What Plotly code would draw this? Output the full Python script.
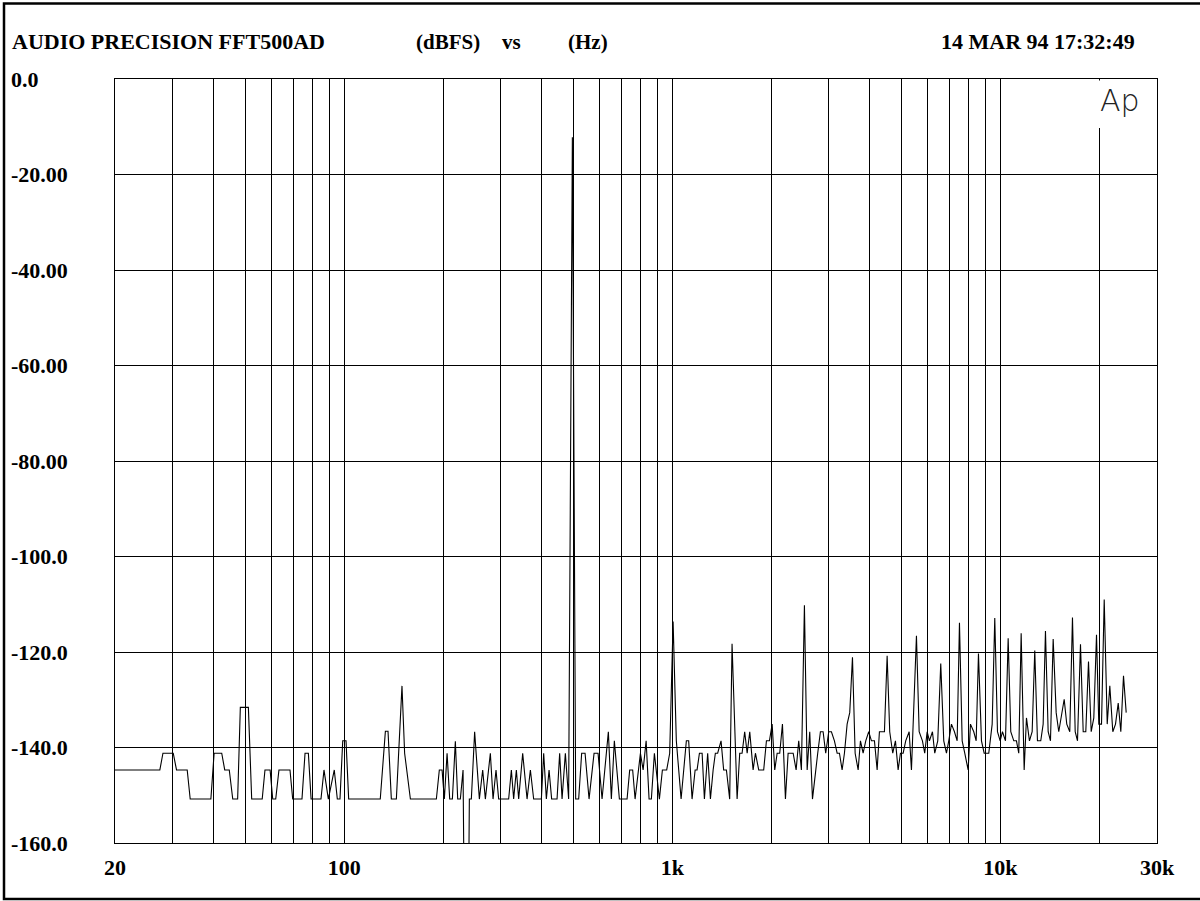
import plotly.graph_objects as go

# ---------------- data ----------------
freq_hz = [
    20.0, 27.4, 28.0, 30.1, 30.8, 33.2, 33.9, 39.2, 40.1, 42.3, 43.2, 44.6, 45.7, 47.3,
    48.2, 51.0, 52.2, 56.2, 57.3, 59.4, 60.5, 61.8, 63.2, 68.3, 69.6, 74.3, 75.9, 77.7,
    79.2, 84.9, 86.7, 89.4, 93.2, 95.2, 97.0, 98.9, 101.2, 103.1, 128.7, 133.4, 135.9,
    139.1, 144.1, 149.9, 152.7, 159.0, 190.8,
    194.8, 198.6, 201.8, 205.7, 209.5, 213.5, 218.0, 221.6, 225.8, 230.1, 231.8, 239.3,
    240.5, 243.9, 249.6, 258.0, 264.1, 269.1, 278.7, 284.0, 290.0, 295.4, 316.9, 323.0,
    328.2, 334.5, 340.0, 349.7, 360.6, 369.1, 377.7, 398.7, 405.2, 412.9, 420.8, 428.5,
    445.1, 453.3, 461.0, 471.8, 482.8, 495.6, 507.2, 518.0, 529.0, 541.8, 557.2, 577.1,
    593.5, 610.4,
    638.0, 651.6, 665.4, 689.3, 727.6, 741.0, 756.7, 769.6, 799.0, 814.3, 831.7, 849.0,
    862.8, 881.3, 912.8, 932.2, 960.8, 981.2, 1005, 1028, 1063, 1103, 1121, 1148, 1173,
    1189, 1209, 1232, 1252, 1281, 1306, 1331, 1352, 1374, 1407, 1433, 1461, 1495, 1520,
    1575, 1604, 1631, 1661, 1690, 1721, 1762, 1791, 1833,
    1855, 1898, 1935, 1976, 2014, 2051, 2086, 2124, 2165, 2211, 2253, 2334, 2383, 2427,
    2473, 2526, 2575, 2622, 2673, 2730, 2773, 2826, 2880, 2933, 2996, 3053, 3118, 3178,
    3230, 3291, 3345, 3409, 3472, 3539, 3606, 3683, 3743, 3814, 3885, 3967, 4043, 4129,
    4208, 4276, 4429, 4514, 4597, 4695, 4785, 4876, 4956, 5051, 5143, 5268, 5354, 5545,
    5651, 5783, 5877, 5977, 6074, 6204, 6305, 6439, 6576, 6716, 6845, 6956, 7089, 7240,
    7379,
    7499, 7643, 7783, 7971, 8101, 8291, 8432, 8569, 8752, 8919, 9212, 9434, 9608, 9792,
    9979, 10141, 10357, 10555, 10750, 10979, 11188, 11370, 11563, 11809, 12001, 12256,
    12491, 12721, 12964, 13268, 13493, 13713, 13976, 14204, 14476, 14784, 15055, 15346,
    15639, 15926, 16265, 16576, 16896, 17171, 17535, 17871, 18200, 18549, 18904, 19252,
    19622, 19941, 20323, 20712, 21152, 21542, 22000, 22421, 22852, 23271, 23714, 24167,
]

level_dbfs = [
    -144.7, -144.7, -141.2, -141.2, -144.7, -144.7, -150.8, -150.8, -141.2, -141.2, -144.7,
    -144.7, -150.8, -150.8, -131.6, -131.6, -150.8, -150.8, -144.7, -144.7, -150.8, -150.8,
    -144.7, -144.7, -150.8, -150.8, -141.2, -141.2, -150.8, -150.8, -144.7, -150.8, -144.7,
    -150.8, -150.8, -138.6, -138.6, -150.8, -150.8, -136.6, -136.6, -150.8, -150.8, -127.1,
    -141.2, -150.8, -150.8,
    -144.7, -144.7, -150.8, -141.2, -150.8, -150.8, -138.7, -150.8, -150.8, -144.7, -170.0,
    -170.0, -150.8, -150.8, -136.7, -150.8, -144.7, -150.8, -141.2, -150.8, -144.7, -150.8,
    -150.8, -144.7, -150.8, -144.7, -150.8, -141.2, -150.8, -144.7, -150.8, -150.8, -141.2,
    -150.8, -144.7, -150.8, -150.8, -141.2, -150.8, -141.2, -150.8, -12.2, -150.8, -150.8,
    -141.2, -141.2, -150.8, -141.2, -141.2, -150.8,
    -136.7, -150.8, -138.6, -150.8, -150.8, -144.7, -144.7, -150.8, -141.2, -144.7, -138.6,
    -150.8, -150.8, -141.2, -150.8, -144.7, -144.7, -141.2, -113.6, -138.6, -150.8, -138.6,
    -138.6, -150.8, -144.7, -144.7, -141.2, -141.2, -150.8, -141.2, -150.8, -144.7, -141.2,
    -141.2, -138.6, -144.7, -144.7, -150.8, -118.3, -150.8, -141.2, -141.2, -136.7, -141.2,
    -136.7, -144.7, -141.2, -144.7,
    -144.7, -144.7, -138.6, -138.6, -135.1, -144.7, -141.2, -141.2, -135.1, -150.8, -141.2,
    -141.2, -144.7, -138.6, -144.7, -110.2, -144.7, -136.7, -150.8, -144.7, -141.2, -136.7,
    -136.7, -141.2, -136.7, -136.7, -138.6, -141.2, -141.2, -144.7, -141.2, -135.1, -132.7,
    -121.1, -141.2, -144.7, -138.6, -141.2, -138.6, -136.7, -138.6, -138.6, -144.7, -136.7,
    -136.7, -120.8, -136.7, -141.2, -138.6, -144.7, -141.2, -141.2, -138.6, -136.7, -144.7,
    -116.6, -136.7, -138.6, -141.2, -136.7, -138.6, -136.7, -141.2, -138.6, -122.4, -138.6,
    -141.2, -138.6, -135.1, -136.7, -138.6,
    -113.9, -138.6, -141.2, -144.7, -135.1, -136.7, -138.6, -120.3, -138.6, -141.2, -141.2,
    -135.1, -112.9, -136.7, -138.6, -136.7, -138.6, -117.1, -136.7, -138.6, -138.6, -141.2,
    -116.1, -144.7, -133.8, -138.6, -136.7, -119.7, -138.6, -138.6, -135.1, -115.6, -136.7,
    -138.6, -117.3, -132.7, -136.7, -133.6, -129.9, -135.1, -136.7, -112.8, -136.7, -138.6,
    -118.4, -136.7, -136.7, -122.0, -136.7, -133.8, -116.4, -135.1, -135.1, -109.0, -135.1,
    -127.1, -136.7, -135.1, -130.7, -136.7, -125.0, -132.7,
]

x_grid_hz = [20, 30, 40, 50, 60, 70, 80, 90, 100, 200, 300, 400, 500, 600, 700, 800, 900,
             1000, 2000, 3000, 4000, 5000, 6000, 7000, 8000, 9000, 10000, 20000, 30000]
x_tick_text = ["20", "", "", "", "", "", "", "", "100", "", "", "", "", "", "", "", "",
               "1k", "", "", "", "", "", "", "", "", "10k", "", "30k"]

y_tick_vals = [0, -20, -40, -60, -80, -100, -120, -140, -160]
y_tick_text = ["0.0", "-20.00", "-40.00", "-60.00", "-80.00", "-100.0", "-120.0", "-140.0", "-160.0"]

title_left = "AUDIO PRECISION FFT500AD"
title_units = ["(dBFS)", "vs", "(Hz)"]
title_date = "14 MAR 94 17:32:49"

# ---------------- layout geometry ----------------
W, H = 1200, 901
ML, MR, MT, MB = 115, 43, 79, 58
PW, PH = W - ML - MR, H - MT - MB


def px(xp):
    return (xp - ML) / PW


def py(yp):
    return (H - MB - yp) / PH


SERIF = "Liberation Serif, Times New Roman, serif"
FS = 22

fig = go.Figure()
fig.add_trace(go.Scatter(
    x=freq_hz, y=level_dbfs, mode="lines",
    line=dict(color="black", width=1.1), hoverinfo="skip", showlegend=False,
))

annotations = []
# title row
annotations.append(dict(text=title_left, x=px(10), y=py(42), xref="paper", yref="paper",
                        xanchor="left", yanchor="middle", showarrow=False,
                        font=dict(family=SERIF, size=FS, color="black", weight="bold")))
for txt, xl in zip(title_units, [414, 500, 566]):
    annotations.append(dict(text=txt, x=px(xl), y=py(42), xref="paper", yref="paper",
                            xanchor="left", yanchor="middle", showarrow=False,
                            font=dict(family=SERIF, size=FS - 1, color="black", weight="bold")))
annotations.append(dict(text=title_date, x=px(1137), y=py(42), xref="paper", yref="paper",
                        xanchor="right", yanchor="middle", showarrow=False,
                        font=dict(family=SERIF, size=FS, color="black", weight="bold")))
# y tick labels (left aligned at the frame)
for v, t in zip(y_tick_vals, y_tick_text):
    annotations.append(dict(text=t, x=px(9), y=v, xref="paper", yref="y",
                            xanchor="left", yanchor="middle", showarrow=False,
                            font=dict(family=SERIF, size=FS, color="black", weight="bold")))
# Ap logo
annotations.append(dict(text="Ap", x=px(1120), y=py(101), xref="paper", yref="paper",
                        xanchor="center", yanchor="middle", showarrow=False,
                        font=dict(family="DejaVu Sans ExtraLight, DejaVu Sans", size=30,
                                  color="#222", weight=200)))

shapes = [
    # white patch behind the logo (hides the top of the 20k grid line)
    dict(type="rect", xref="paper", yref="paper", x0=px(1093), x1=px(1155),
         y0=py(128), y1=py(80.5), fillcolor="white", line=dict(width=0), layer="above"),
    # outer frame
    dict(type="rect", xref="paper", yref="paper", x0=px(4), x1=px(1203),
         y0=py(899), y1=py(3.5), line=dict(color="black", width=2.5), layer="above"),
]

fig.update_layout(
    width=W, height=H,
    margin=dict(l=ML, r=MR, t=MT, b=MB),
    paper_bgcolor="white", plot_bgcolor="white",
    showlegend=False,
    annotations=annotations,
    shapes=shapes,
    xaxis=dict(
        type="log", range=[1.30103, 4.4771213],
        tickmode="array", tickvals=x_grid_hz, ticktext=x_tick_text,
        showgrid=True, gridcolor="black", gridwidth=1,
        showline=True, linecolor="black", linewidth=1, mirror=True,
        ticks="", zeroline=False, ticklabelstandoff=5,
        tickfont=dict(family=SERIF, size=FS, color="black", weight="bold"),
    ),
    yaxis=dict(
        range=[-160, 0], tickmode="array", tickvals=y_tick_vals,
        showgrid=True, gridcolor="black", gridwidth=1,
        showline=True, linecolor="black", linewidth=1, mirror=True,
        ticks="", zeroline=False, showticklabels=False,
    ),
)

fig.write_html("out.html")
